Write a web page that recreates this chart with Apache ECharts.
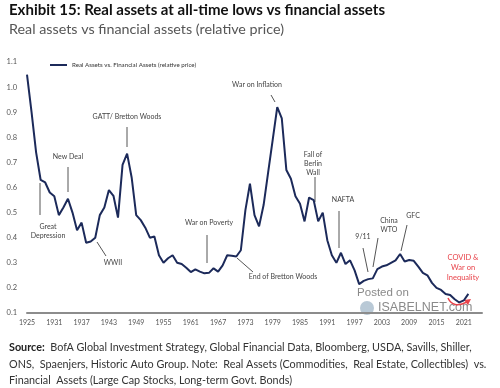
<!DOCTYPE html>
<html><head><meta charset="utf-8">
<script src="https://cdn.jsdelivr.net/npm/echarts@6/dist/echarts.min.js"></script>
<style>html,body{margin:0;padding:0;background:#fff}#c{width:500px;height:388px}</style>
</head><body><div id="c"></div>
<script>
var years = [];
for (var y = 1925; y <= 2025; y++) years.push(String(y));
var seriesName = 'Real Assets vs. Financial Assets (relative price)';
var values = [
 1.05,0.90,0.74,0.63,0.62,0.58,0.565,0.49,0.52,0.555,
 0.50,0.43,0.46,0.38,0.385,0.40,0.49,0.52,0.59,0.567,
 0.48,0.69,0.735,0.64,0.49,0.47,0.44,0.40,0.405,0.33,
 0.30,0.318,0.33,0.30,0.295,0.28,0.263,0.274,0.265,0.258,
 0.26,0.278,0.265,0.29,0.33,0.328,0.325,0.35,0.51,0.615,
 0.49,0.445,0.53,0.66,0.79,0.92,0.875,0.67,0.635,0.565,
 0.535,0.465,0.56,0.55,0.465,0.50,0.39,0.33,0.30,0.34,
 0.295,0.31,0.27,0.215,0.228,0.235,0.238,0.275,0.285,0.29,
 0.30,0.31,0.335,0.305,0.311,0.308,0.285,0.26,0.25,0.22,
 0.20,0.192,0.176,0.172,0.155,0.142,0.15,0.176
];
var yTicks = [0.1,0.2,0.3,0.4,0.5,0.6,0.7,0.8,0.9,1.0,1.1];
var titleText = 'Exhibit 15: Real assets at all-time lows vs financial assets';
var subtitleText = 'Real assets vs financial assets (relative price)';
var sourceLines = [
 'BofA Global Investment Strategy, Global Financial Data, Bloomberg, USDA, Savills, Shiller,',
 'ONS,  Spaenjers, Historic Auto Group. Note:  Real Assets (Commodities,  Real Estate, Collectibles)  vs.',
 'Financial  Assets (Large Cap Stocks, Long-term Govt. Bonds)'
];
var annotations = [
 {t:'New Deal', x:68, y:157, l:[68,167,68,192]},
 {t:'Great\nDepression', x:48, y:231, l:[40,183,40,215]},
 {t:'WWII', x:113, y:263, l:[97,242,106,256]},
 {t:'GATT/ Bretton Woods', x:127, y:117, l:[127,127,127,147]},
 {t:'War on Poverty', x:209, y:223, l:[207,235,207,263]},
 {t:'End of Bretton Woods', x:283, y:277, l:[237,258,253,272]},
 {t:'War on Inflation', x:257, y:85, l:[271,95,275,102]},
 {t:'Fall of\nBerlin\nWall', x:313, y:164, l:[315,177,315,202]},
 {t:'NAFTA', x:343, y:200, l:[339,211,339,248]},
 {t:'9/11', x:363, y:237, l:[363,248,368,272]},
 {t:'China\nWTO', x:389, y:225, l:[378,238,373,267]},
 {t:'GFC', x:413, y:216, l:[407,225,401,251]}
];
var FF = 'Lato, sans-serif';
var chart = echarts.init(document.getElementById('c'));
var graphics = [
 {type:'text', left:9, top:3, style:{text:titleText, font:'bold 15px ' + FF, fill:'#111'}},
 {type:'text', left:9, top:22, style:{text:subtitleText, font:'14.3px ' + FF, fill:'#555'}},
 {type:'text', left:9, top:339, style:{
   text:'{b|Source:}  ' + sourceLines.join('\n'),
   rich:{b:{fontWeight:'bold', fontSize:10.8, fontFamily:FF, fill:'#222', lineHeight:16.7}},
   font:'10.8px ' + FF, fill:'#333', lineHeight:16.7}},
 {type:'text', x:383, y:293, style:{text:'Posted on', font:'11.5px "Liberation Sans", sans-serif', fill:'#8a8a8a', align:'center', verticalAlign:'middle'}},
 {type:'circle', shape:{cx:367, cy:308, r:7}, style:{fill:'#b9c9d6'}},
 {type:'text', x:378, y:308, style:{text:'ISABELNET.com', font:'12.5px "Liberation Sans", sans-serif', fill:'#8a8a8a', align:'left', verticalAlign:'middle'}},
 {type:'text', x:463, y:268, style:{text:'COVID &\nWar on\nInequality', font:'7.5px ' + FF, fill:'#e8434a', align:'center', verticalAlign:'middle', lineHeight:10}},
 {type:'bezierCurve', shape:{x1:448, y1:298, x2:467, y2:302, cpx1:453, cpy1:309}, style:{stroke:'#e8434a', lineWidth:1.5, fill:null}},
 {type:'polygon', shape:{points:[[471,299],[464,300],[468,305]]}, style:{fill:'#e8434a'}}
];
annotations.forEach(function(a){
  graphics.push({type:'text', x:a.x, y:a.y, style:{text:a.t, font:'7px ' + FF, fill:'#444', align:'center', verticalAlign:'middle', lineHeight:9}});
  graphics.push({type:'line', shape:{x1:a.l[0], y1:a.l[1], x2:a.l[2], y2:a.l[3]}, style:{stroke:'#555', lineWidth:1}});
});
chart.setOption({
  animation:false,
  backgroundColor:'#fff',
  grid:{left:27, right:18, top:62, bottom:75, containLabel:false},
  legend:{show:true, left:50, top:62, padding:0, itemWidth:17, itemHeight:2, itemGap:2, icon:'rect',
    textStyle:{fontSize:6.2, color:'#333', fontFamily:FF}},
  xAxis:{type:'category', data:years, boundaryGap:false,
    axisLine:{lineStyle:{color:'#8c8c8c', width:2}}, axisTick:{show:false},
    axisLabel:{interval:5, fontSize:7, color:'#555', margin:6, fontFamily:FF}},
  yAxis:{type:'value', min:yTicks[0], max:yTicks[yTicks.length-1], interval:0.1,
    axisLine:{show:false}, axisTick:{show:false}, splitLine:{show:false},
    axisLabel:{fontSize:7.5, color:'#555', margin:10, formatter:function(v){return v.toFixed(1);}, fontFamily:FF}},
  series:[{name:seriesName, type:'line', data:values, showSymbol:false, smooth:false,
    lineStyle:{color:'#1c2a5a', width:2}, itemStyle:{color:'#1c2a5a'}}],
  graphic:graphics
});
</script></body></html>
